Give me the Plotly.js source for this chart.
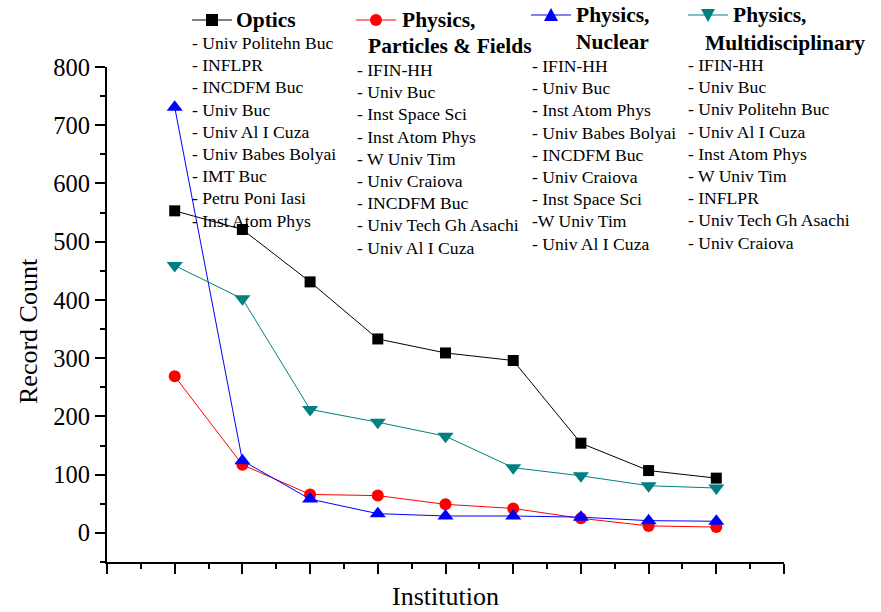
<!DOCTYPE html>
<html>
<head>
<meta charset="utf-8">
<script src="https://cdn.plot.ly/plotly-3.0.1.min.js"></script>
<style>html,body{margin:0;padding:0;background:#fff;}#chart{width:881px;height:612px;}</style>
</head>
<body>
<div id="chart"></div>
<script>
// ---- data ----
var rank = [1, 2, 3, 4, 5, 6, 7, 8, 9];
var optics = [553, 521, 431, 333, 309, 296, 154, 107, 94];
var particlesFields = [269, 117, 66, 64, 49, 42, 25, 12, 10];
var nuclear = [731, 124, 58, 33, 29, 29, 27, 21, 20];
var multidisciplinary = [459, 402, 212, 190, 166, 112, 98, 81, 77];

var seriesNames = ["Optics", "Physics, Particles & Fields", "Physics, Nuclear", "Physics, Multidisciplinary"];
var opticsInst = ["Univ Politehn Buc", "INFLPR", "INCDFM Buc", "Univ Buc", "Univ Al I Cuza", "Univ Babes Bolyai", "IMT Buc", "Petru Poni Iasi", "Inst Atom Phys"];
var particlesInst = ["IFIN-HH", "Univ Buc", "Inst Space Sci", "Inst Atom Phys", "W Univ Tim", "Univ Craiova", "INCDFM Buc", "Univ Tech Gh Asachi", "Univ Al I Cuza"];
var nuclearInst = ["IFIN-HH", "Univ Buc", "Inst Atom Phys", "Univ Babes Bolyai", "INCDFM Buc", "Univ Craiova", "Inst Space Sci", "W Univ Tim", "Univ Al I Cuza"];
var multiInst = ["IFIN-HH", "Univ Buc", "Univ Politehn Buc", "Univ Al I Cuza", "Inst Atom Phys", "W Univ Tim", "INFLPR", "Univ Tech Gh Asachi", "Univ Craiova"];

// ---- layout helpers ----
var W = 881, H = 612;
var M = {l: 107, r: 97, t: 67, b: 50};
var PW = W - M.l - M.r, PH = H - M.t - M.b;
function px(x) { return (x - M.l) / PW; }
function py(y) { return (H - M.b - y) / PH; }
var FONT = "Liberation Serif, Times New Roman, serif";

function trace(y, name, color, symbol, size) {
  return {
    x: rank, y: y, name: name, type: "scatter", mode: "lines+markers",
    line: {color: color, width: 1},
    marker: {color: color, symbol: symbol, size: size},
    showlegend: false, cliponaxis: false
  };
}
var data = [
  trace(optics, seriesNames[0], "#000000", "square", 11),
  trace(particlesFields, seriesNames[1], "#ff0000", "circle", 12),
  trace(nuclear, seriesNames[2], "#0000ff", "triangle-up", 14),
  trace(multidisciplinary, seriesNames[3], "#008080", "triangle-down", 14)
];

var annotations = [];
var shapes = [];
function txt(s, x, y, size, bold, xanchor, yanchor, angle) {
  annotations.push({
    text: bold ? "<b>" + s + "</b>" : s,
    xref: "paper", yref: "paper", x: px(x), y: py(y),
    xanchor: xanchor || "left", yanchor: yanchor || "middle",
    align: "left", showarrow: false, textangle: angle || 0,
    font: {family: FONT, size: size, color: "#000"}
  });
}
function list(items, x, yFirst, dashJoin) {
  items.forEach(function (s, i) {
    var line = (s === "W Univ Tim" && dashJoin ? "-" : "- ") + s;
    txt(line, x, yFirst + i * 22.2, 17.6, false, "left", "middle");
  });
}
function symbolKey(x0, y, color, marker) {
  shapes.push({type: "line", xref: "paper", yref: "paper", x0: px(x0), x1: px(x0 + 40), y0: py(y), y1: py(y),
    line: {color: color, width: 1}});
  var s = {xref: "paper", yref: "paper", xsizemode: "pixel", ysizemode: "pixel",
    xanchor: px(x0 + 20), yanchor: py(y), fillcolor: color, line: {color: color, width: 0}};
  if (marker === "circle") { s.type = "circle"; s.x0 = -6; s.x1 = 6; s.y0 = -6; s.y1 = 6; }
  else { s.type = "path"; s.path = marker; }
  shapes.push(s);
}

// legend block (custom)
symbolKey(192, 20, "#000000", "M-6,-6L6,-6L6,6L-6,6Z");
txt("Optics", 234, 20, 21.5, true);
list(opticsInst, 190, 43);

symbolKey(356, 20, "#ff0000", "circle");
txt("Physics,", 400, 20, 21.5, true);
txt("Particles &amp; Fields", 366, 46, 21.5, true);
list(particlesInst, 355, 70);

symbolKey(531, 15, "#0000ff", "M-7,-6L7,-6L0,7Z");
txt("Physics,", 574, 15, 21.5, true);
txt("Nuclear", 574, 42, 21.5, true);
list(nuclearInst, 530, 66, true);

symbolKey(688, 15, "#008080", "M-7,6L7,6L0,-7Z");
txt("Physics,", 731, 15, 21.5, true);
txt("Multidisciplinary", 703, 43, 21.5, true);
list(multiInst, 686, 65);

// y axis title
txt("Record Count", 28, 331, 26, false, "center", "middle", -90);

var layout = {
  width: W, height: H,
  margin: M,
  paper_bgcolor: "#fff", plot_bgcolor: "#fff",
  showlegend: false,
  font: {family: FONT, color: "#000"},
  xaxis: {
    range: [0, 10], dtick: 1, tick0: 0,
    showticklabels: false, showgrid: false, zeroline: false,
    showline: true, linewidth: 2, linecolor: "#000",
    ticks: "outside", ticklen: 10, tickwidth: 2, tickcolor: "#000",
    minor: {dtick: 0.5, ticks: "outside", ticklen: 5, tickwidth: 2, tickcolor: "#000", showgrid: false},
    title: {text: "Institution", font: {family: FONT, size: 26, color: "#000"}, standoff: 14}
  },
  yaxis: {
    range: [-50, 800], dtick: 100, tick0: 0,
    showgrid: false, zeroline: false,
    showline: true, linewidth: 2, linecolor: "#000",
    ticks: "outside", ticklen: 10, tickwidth: 2, tickcolor: "#000",
    tickfont: {family: FONT, size: 24.5, color: "#000"},
    minor: {dtick: 50, ticks: "outside", ticklen: 5, tickwidth: 2, tickcolor: "#000", showgrid: false}
  },
  annotations: annotations,
  shapes: shapes
};

Plotly.newPlot("chart", data, layout, {staticPlot: true, displayModeBar: false});
</script>
</body>
</html>
